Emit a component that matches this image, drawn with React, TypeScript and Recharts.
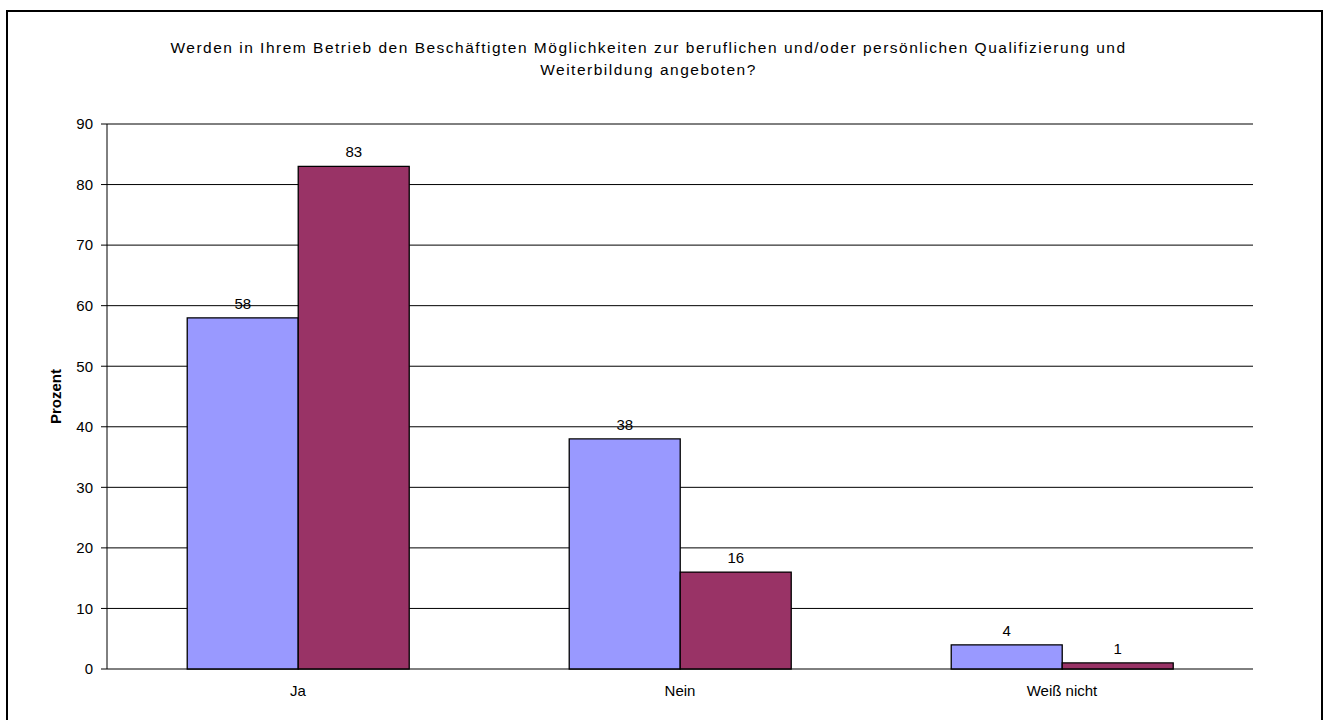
import React from "react";
import {
  BarChart,
  Bar,
  XAxis,
  YAxis,
  CartesianGrid,
  LabelList,
  ReferenceLine,
  Label,
} from "recharts";

const categories = ["Ja", "Nein", "Weiß nicht"];
const seriesA = [58, 38, 4];
const seriesB = [83, 16, 1];
const yTicks = [0, 10, 20, 30, 40, 50, 60, 70, 80, 90];
const boundaryTicks = [0, 1, 2, 3];

const data = categories.map((c, i) => ({ name: c, a: seriesA[i], b: seriesB[i] }));

const FONT = "'Liberation Sans', Arial, sans-serif";

export default function App() {
  return (
    <div style={{ position: "fixed", left: 0, top: 0, width: 1323, height: 720, background: "#fff", fontFamily: FONT }}>
      <div
        style={{
          position: "absolute",
          left: 6,
          top: 10,
          width: 1317,
          height: 730,
          border: "2px solid #000",
          boxSizing: "border-box",
          pointerEvents: "none",
        }}
      />
      <div
        style={{
          position: "absolute",
          left: 0,
          top: 37,
          width: 1297,
          textAlign: "center",
          fontSize: 15.5,
          letterSpacing: 1.5,
          lineHeight: "22px",
          color: "#000",
        }}
      >
        Werden in Ihrem Betrieb den Beschäftigten Möglichkeiten zur beruflichen und/oder persönlichen Qualifizierung und
        <br />
        Weiterbildung angeboten?
      </div>
      <div style={{ position: "absolute", left: 0, top: 0 }}>
        <BarChart
          width={1323}
          height={720}
          data={data}
          margin={{ top: 124, right: 70, bottom: 21, left: 47 }}
          barCategoryGap="21%"
          barGap={0}
        >
          <CartesianGrid vertical={false} stroke="#000" strokeWidth={1} />
          <XAxis
            xAxisId={0}
            type="number"
            domain={[0, 3]}
            ticks={boundaryTicks}
            height={0}
            tickSize={5}
            tickFormatter={() => ""}
            axisLine={{ stroke: "#000", strokeWidth: 1 }}
            tickLine={{ stroke: "#000" }}
            allowDataOverflow
          />
          <XAxis
            xAxisId="cat"
            dataKey="name"
            height={30}
            axisLine={false}
            tickLine={false}
            tickMargin={10}
            tick={{ fill: "#000", fontSize: 15, fontFamily: FONT }}
          />
          <YAxis
            width={60}
            domain={[0, 90]}
            ticks={yTicks}
            tickSize={6}
            tickMargin={8}
            interval={0}
            axisLine={{ stroke: "#000" }}
            tickLine={{ stroke: "#000" }}
            tick={{ fill: "#000", fontSize: 15, fontFamily: FONT }}
          >
            <Label
              value="Prozent"
              angle={-90}
              position="center"
              dx={-21}
              style={{ fontWeight: "bold", fontSize: 15, fill: "#000", fontFamily: FONT }}
            />
          </YAxis>
          <ReferenceLine y={90} stroke="#808080" strokeWidth={1} />
          <ReferenceLine x={3} xAxisId={0} stroke="#808080" strokeWidth={1} />
          <Bar dataKey="a" xAxisId="cat" fill="#9999FF" stroke="#000" strokeWidth={1.3} isAnimationActive={false}>
            <LabelList dataKey="a" position="top" offset={9} fill="#000" fontSize={15} fontFamily={FONT} />
          </Bar>
          <Bar dataKey="b" xAxisId="cat" fill="#993366" stroke="#000" strokeWidth={1.3} isAnimationActive={false}>
            <LabelList dataKey="b" position="top" offset={9} fill="#000" fontSize={15} fontFamily={FONT} />
          </Bar>
        </BarChart>
      </div>
    </div>
  );
}
